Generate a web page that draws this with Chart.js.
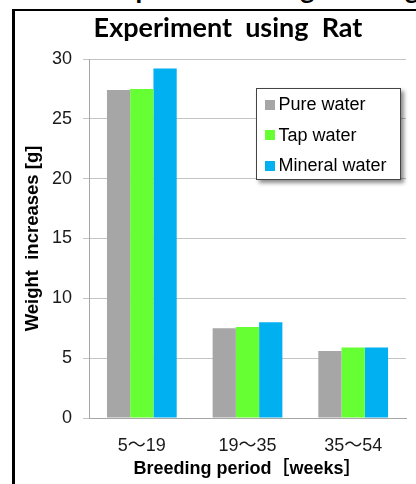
<!DOCTYPE html>
<html>
<head>
<meta charset="utf-8">
<script src="https://cdn.jsdelivr.net/npm/chart.js@4/dist/chart.umd.min.js"></script>
<style>
  html, body { margin: 0; padding: 0; background: #fff; }
  #wrap { position: relative; width: 416px; height: 484px; overflow: hidden; background: #fff; }
  #heading { position: absolute; left: 106px; top: -25px; font: bold 27px Lato, sans-serif; line-height: 27px; white-space: nowrap; color: #000; }
  #frame { position: absolute; left: 12px; top: 9px; width: 520px; height: 520px; border-left: 3px solid #000; border-top: 2px solid #000; }
  #chart { position: absolute; left: 0; top: 0; }
  #legend { position: absolute; left: 256px; top: 88px; width: 143px; height: 90px; border: 1.5px solid #444; background: #fff;
            box-shadow: 3px 3px 4px rgba(0,0,0,0.45); font: 18px 'Liberation Sans', Arial, sans-serif; color: #000; }
  .item { position: absolute; left: 7.5px; height: 20px; display: flex; align-items: center; white-space: nowrap; }
  .sw { width: 10px; height: 10px; margin-right: 4px; flex: none; }
</style>
</head>
<body>
<div id="wrap">
  <div id="heading">Experiment using drinking water</div>
  <div id="frame"></div>
  <canvas id="chart" width="456" height="484"></canvas>
  <div id="legend"></div>
</div>
<script>
// Breeding periods (weeks) and weight gain per drinking-water group, in grams
const categories = ['5～19', '19～35', '35～54'];
const pureWater = [27.4, 7.5, 5.6];
const tapWater = [27.5, 7.6, 5.9];
const mineralWater = [29.2, 8.0, 5.9];
const seriesNames = ['Pure water', 'Tap water', 'Mineral water'];
const seriesColors = ['#A6A6A6', '#66FF33', '#00B0F0'];
const yTicks = [0, 5, 10, 15, 20, 25, 30];

const sansFont = "'Liberation Sans', Arial, 'Noto Sans CJK JP', sans-serif";

const datasets = [pureWater, tapWater, mineralWater].map((values, i) => ({
  label: seriesNames[i],
  data: values,
  backgroundColor: seriesColors[i],
  borderWidth: 0,
  categoryPercentage: 0.66,
  barPercentage: 1.0
}));

const chart = new Chart(document.getElementById('chart'), {
  type: 'bar',
  data: { labels: categories, datasets },
  options: {
    responsive: false,
    devicePixelRatio: 1,
    animation: false,
    layout: { padding: 0 },
    plugins: {
      legend: { display: false },
      tooltip: { enabled: false },
      title: {
        display: true,
        text: 'Experiment  using  Rat',
        color: '#000',
        font: { family: 'Lato, sans-serif', size: 27, weight: 'bold', lineHeight: 1.2 },
        padding: { top: 12.5, bottom: 14.1 }
      }
    },
    scales: {
      x: {
        grid: { display: false },
        border: { display: true, color: '#A6A6A6', width: 1 },
        ticks: { color: '#1a1a1a', padding: 9, font: { family: sansFont, size: 18 } },
        title: {
          display: true,
          text: 'Breeding period［weeks］',
          color: '#000',
          font: { family: sansFont, size: 18, weight: 'bold', lineHeight: 1.2 },
          padding: { top: 0, bottom: 4 }
        },
        afterFit(scale) { scale.height = 66; }
      },
      y: {
        min: yTicks[0],
        max: yTicks[yTicks.length - 1],
        grid: { color: '#C4C4C4', lineWidth: 1, drawTicks: true, tickLength: 6 },
        border: { display: true, color: '#A6A6A6', width: 1 },
        ticks: {
          stepSize: yTicks[1] - yTicks[0],
          color: '#1a1a1a',
          padding: 11,
          font: { family: sansFont, size: 18 }
        },
        title: {
          display: true,
          text: 'Weight  increases [g]',
          color: '#000',
          font: { family: sansFont, size: 18.5, weight: 'bold', lineHeight: 1.2 },
          padding: { top: 22, bottom: 0 }
        },
        afterFit(scale) { scale.width = 89; }
      },
      // empty right-hand axis that keeps the plot clear of the canvas edge
      spacer: {
        position: 'right',
        display: true,
        grid: { display: false, drawTicks: false },
        border: { display: false },
        ticks: { display: false },
        afterFit(scale) { scale.width = 50; }
      }
    }
  }
});

// HTML legend built from the chart's datasets
const legendEl = document.getElementById('legend');
chart.data.datasets.forEach((ds, i) => {
  const row = document.createElement('div');
  row.className = 'item';
  row.style.top = (5.5 + i * 30.5) + 'px';
  const sw = document.createElement('span');
  sw.className = 'sw';
  sw.style.background = ds.backgroundColor;
  const txt = document.createElement('span');
  txt.textContent = ds.label;
  row.appendChild(sw);
  row.appendChild(txt);
  legendEl.appendChild(row);
});
</script>
</body>
</html>
